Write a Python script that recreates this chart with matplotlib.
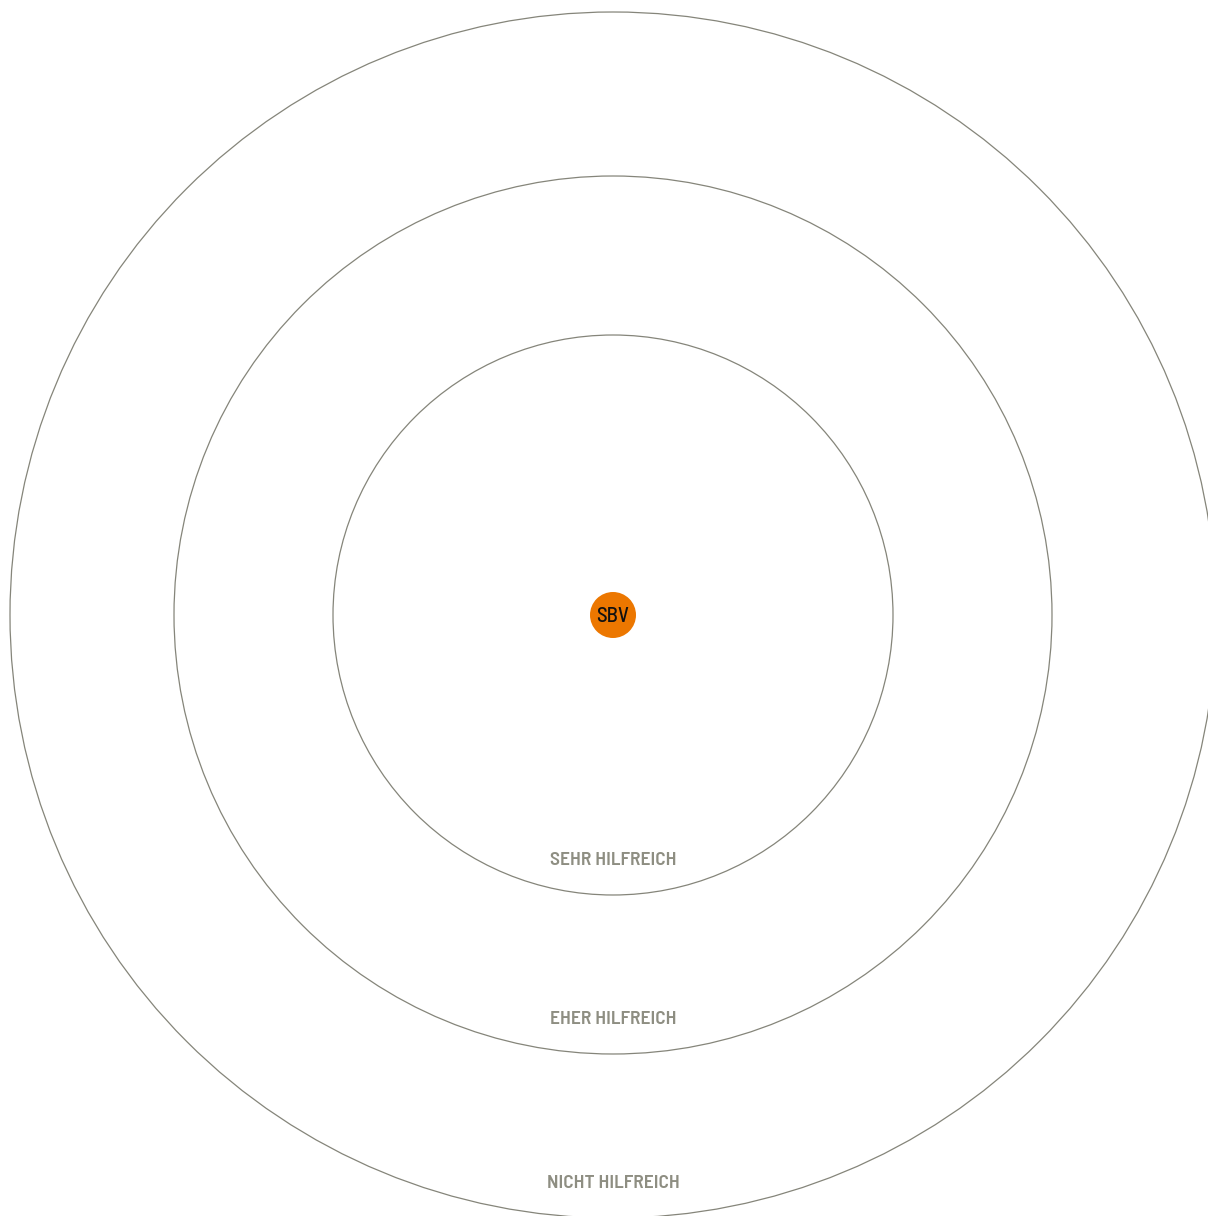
import matplotlib
matplotlib.use("Agg")
import matplotlib.pyplot as plt
from matplotlib.patches import Circle
import math

# Data
ring_labels = ["SEHR HILFREICH", "EHER HILFREICH", "NICHT HILFREICH"]
ring_radius = [280, 439, 603]
items = ["SBV"]
item_radius = [0]
item_angle = [0]

W, H = 1208, 1216
cx, cy = 613, 615

fig = plt.figure(figsize=(W / 100, H / 100), dpi=100)
ax = fig.add_axes([0, 0, 1, 1])
ax.set_xlim(0, W)
ax.set_ylim(H, 0)
ax.set_aspect("equal")
ax.axis("off")

line_col = "#85857a"
label_col = "#8e8e82"
narrow = ["Barlow Semi Condensed", "Roboto Condensed", "DejaVu Sans"]

for lab, r in zip(ring_labels, ring_radius):
    ax.add_patch(Circle((cx, cy), r, fill=False, edgecolor=line_col, linewidth=0.9))
    ax.text(cx, cy + r - 30, lab, ha="center", va="baseline", fontsize=14,
            fontweight="semibold", color=label_col, family=narrow)

for name, r, a in zip(items, item_radius, item_angle):
    x = cx + r * math.cos(math.radians(a))
    y = cy + r * math.sin(math.radians(a))
    ax.add_patch(Circle((x, y), 23, facecolor="#ec7700", edgecolor="none"))
    ax.text(x, y + 1, name, ha="center", va="center", fontsize=15,
            fontweight="medium", color="#111111", family=narrow)

fig.savefig("out.png", dpi=100)
